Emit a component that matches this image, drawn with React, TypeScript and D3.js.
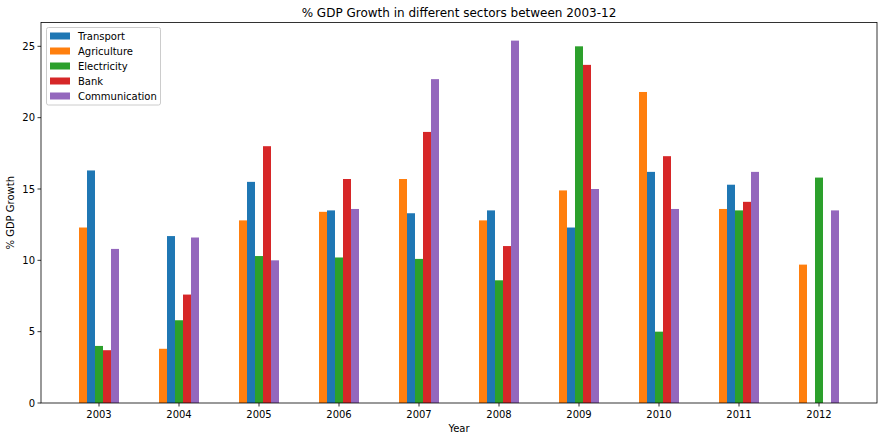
import React from "react";
import * as d3 from "d3";

const years = ["2003", "2004", "2005", "2006", "2007", "2008", "2009", "2010", "2011", "2012"];
const seriesNames = ["Agriculture", "Transport", "Electricity", "Bank", "Communication"];
const legendOrder = ["Transport", "Agriculture", "Electricity", "Bank", "Communication"];
const agriculture = [12.3, 3.8, 12.8, 13.4, 15.7, 12.8, 14.9, 21.8, 13.6, 9.7];
const transport = [16.3, 11.7, 15.5, 13.5, 13.3, 13.5, 12.3, 16.2, 15.3, NaN];
const electricity = [4.0, 5.8, 10.3, 10.2, 10.1, 8.6, 25.0, 5.0, 13.5, 15.8];
const bank = [3.7, 7.6, 18.0, 15.7, 19.0, 11.0, 23.7, 17.3, 14.1, NaN];
const communication = [10.8, 11.6, 10.0, 13.6, 22.7, 25.4, 15.0, 13.6, 16.2, 13.5];
const yTicks = [0, 5, 10, 15, 20, 25];

const colors: Record<string, string> = {
  Transport: "#1f77b4",
  Agriculture: "#ff7f0e",
  Electricity: "#2ca02c",
  Bank: "#d62728",
  Communication: "#9467bd",
};

const seriesData: Record<string, number[]> = {
  Agriculture: agriculture,
  Transport: transport,
  Electricity: electricity,
  Bank: bank,
  Communication: communication,
};

export default function App() {
  const W = 885, H = 441;
  const left = 41, right = 877, top = 22.5, bottom = 403;
  const barW = 0.1;
  const x = d3.scaleLinear().domain([-0.725, 9.725]).range([left, right]);
  const y = d3.scaleLinear().domain([0, 26.67]).range([bottom, top]);
  const font = "DejaVu Sans, sans-serif";
  return (
    <svg width={W} height={H} style={{ position: "absolute", left: 0, top: 0 }} fontFamily={font}>
      <rect x={0} y={0} width={W} height={H} fill="#fff" />
      {seriesNames.map((name, si) =>
        seriesData[name].map((v, i) => {
          if (!isFinite(v)) return null;
          const x0 = x(i + (si - 2.5) * barW);
          const x1 = x(i + (si - 1.5) * barW);
          return (
            <rect key={name + i} x={x0} y={y(v)} width={x1 - x0} height={y(0) - y(v)} fill={colors[name]} />
          );
        })
      )}
      <rect x={left} y={top} width={right - left} height={bottom - top} fill="none" stroke="#000" strokeWidth={0.8} />
      {years.map((yr, i) => (
        <g key={yr}>
          <line x1={x(i)} x2={x(i)} y1={bottom} y2={bottom + 3.5} stroke="#000" strokeWidth={0.8} />
          <text x={x(i)} y={bottom + 15} fontSize={10} textAnchor="middle" fill="#000">{yr}</text>
        </g>
      ))}
      {yTicks.map((t) => (
        <g key={t}>
          <line x1={left - 3.5} x2={left} y1={y(t)} y2={y(t)} stroke="#000" strokeWidth={0.8} />
          <text x={left - 6} y={y(t) + 3.6} fontSize={10} textAnchor="end" fill="#000">{t}</text>
        </g>
      ))}
      <text x={(left + right) / 2} y={17} fontSize={12} textAnchor="middle" fill="#000">% GDP Growth in different sectors between 2003-12</text>
      <text x={(left + right) / 2} y={432} fontSize={10} textAnchor="middle" fill="#000">Year</text>
      <text transform={`translate(14,${(top + bottom) / 2}) rotate(-90)`} fontSize={10} textAnchor="middle" fill="#000">% GDP Growth</text>
      <g>
        <rect x={46.5} y={27.5} width={114} height={77.5} rx={2} fill="#fff" fillOpacity={0.8} stroke="#ccc" strokeWidth={1} />
        {legendOrder.map((name, k) => (
          <g key={name}>
            <rect x={50} y={32.5 + k * 15} width={20} height={7} fill={colors[name]} />
            <text x={78} y={39.5 + k * 15} fontSize={10} fill="#000">{name}</text>
          </g>
        ))}
      </g>
    </svg>
  );
}
